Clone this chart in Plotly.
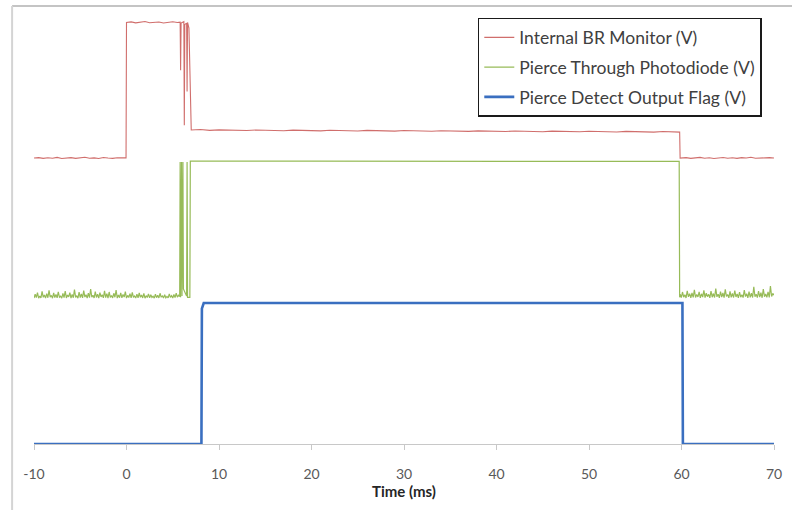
import plotly.graph_objects as go

# ---------------- data (time in ms, signal in arbitrary offset volts) ----------------
# Internal BR Monitor
red_t = [-10, -9.5, -9, -8.5, -8, -7.5, -7, -6.5, -6, -5.5, -5, -4.5, -4, -3.5, -3, -2.5, -2, -1.5, -1, -0.5, -0.05,
         0.0, 0.5, 1.0, 1.5, 2.0, 2.5, 3.0, 3.5, 4.0, 4.5, 5.0, 5.5, 5.8,
         5.85, 5.9, 6.2, 6.25, 6.3, 6.5, 6.55, 6.6, 6.75, 6.95,
         7, 8, 9, 10, 11, 12, 13, 14, 15, 16, 17, 18, 19, 20, 21, 22, 23, 24, 25, 26, 27, 28, 29, 30,
         31, 32, 33, 34, 35, 36, 37, 38, 39, 40, 41, 42, 43, 44, 45, 46, 47, 48, 49, 50, 51, 52, 53,
         54, 55, 56, 57, 58, 59, 59.8,
         59.85, 60.5, 61, 61.5, 62, 62.5, 63, 63.5, 64, 64.5, 65, 65.5, 66, 66.5, 67, 67.5, 68, 68.5, 69, 69.5, 70]
red_v = [2.028, 2.031, 2.026, 2.030, 2.027, 2.033, 2.025, 2.029, 2.031, 2.026, 2.028, 2.034, 2.027, 2.029, 2.025, 2.032, 2.028, 2.026, 2.030, 2.027, 2.029,
         2.990, 2.994, 2.987, 2.992, 2.996, 2.988, 2.991, 2.993, 2.986, 2.992, 2.995, 2.989, 2.992,
         2.650, 2.985, 2.995, 2.260, 2.975, 2.985, 2.500, 2.990, 2.950, 2.228,
         2.227, 2.230, 2.224, 2.228, 2.226, 2.229, 2.223, 2.227, 2.225, 2.228, 2.222, 2.226, 2.224, 2.227, 2.221, 2.225, 2.223, 2.226, 2.220, 2.224, 2.222, 2.225, 2.219, 2.223,
         2.221, 2.224, 2.218, 2.222, 2.220, 2.223, 2.217, 2.221, 2.219, 2.222, 2.216, 2.220, 2.218, 2.221, 2.215, 2.219, 2.217, 2.220, 2.214, 2.218, 2.216, 2.219, 2.213,
         2.217, 2.215, 2.218, 2.212, 2.216, 2.214, 2.212,
         2.028, 2.031, 2.026, 2.029, 2.033, 2.027, 2.030, 2.025, 2.029, 2.032, 2.027, 2.030, 2.026, 2.031, 2.028, 2.034, 2.027, 2.029, 2.026, 2.031, 2.028]

# Pierce Through Photodiode: noisy baseline before the pierce (-10 .. 5.75 ms)
green_pre_v = [1.035, 1.062, 1.038, 1.074, 1.034, 1.050, 1.036, 1.083, 1.040, 1.057, 1.035, 1.066, 1.037, 1.090, 1.042, 1.054,
               1.034, 1.071, 1.039, 1.060, 1.036, 1.079, 1.041, 1.048, 1.035, 1.068, 1.038, 1.085, 1.036, 1.056, 1.043, 1.073,
               1.035, 1.061, 1.037, 1.095, 1.040, 1.052, 1.034, 1.077, 1.039, 1.064, 1.036, 1.088, 1.042, 1.058, 1.035, 1.070,
               1.038, 1.099, 1.041, 1.055, 1.036, 1.081, 1.039, 1.063, 1.035, 1.074, 1.043, 1.059, 1.036, 1.086, 1.038, 1.067,
               1.034, 1.078, 1.040, 1.053, 1.036, 1.069, 1.041, 1.092, 1.035, 1.057, 1.038, 1.072, 1.036, 1.061, 1.042, 1.080,
               1.035, 1.054, 1.039, 1.066, 1.036, 1.075, 1.040, 1.050, 1.035, 1.063, 1.037, 1.071, 1.041, 1.056, 1.036, 1.068,
               1.034, 1.052, 1.039, 1.065, 1.036, 1.059, 1.040, 1.048, 1.035, 1.062, 1.038, 1.055, 1.036, 1.069, 1.041, 1.050,
               1.035, 1.058, 1.037, 1.047, 1.036, 1.064, 1.040, 1.052, 1.035, 1.060, 1.038, 1.070, 1.042, 1.055, 1.046]
# pierce transition spikes and the high level
green_mid_t = [5.8, 5.85, 5.95, 6.0, 6.1, 6.15, 6.5, 6.55, 6.6, 6.85, 6.9, 20, 40, 59.75, 59.8]
green_mid_v = [2.000, 1.040, 2.000, 1.050, 2.000, 1.100, 1.050, 2.000, 1.040, 1.040, 2.007, 2.006, 2.005, 2.004, 1.040]
# noisy baseline after the pierce signal ends (59.85 .. 70 ms)
green_post_v = [1.062, 1.038, 1.078, 1.041, 1.058, 1.036, 1.086, 1.044, 1.066, 1.037, 1.071, 1.040, 1.094, 1.039, 1.060, 1.043,
                1.079, 1.037, 1.065, 1.042, 1.090, 1.038, 1.070, 1.045, 1.061, 1.036, 1.084, 1.041, 1.067, 1.039, 1.102, 1.044,
                1.063, 1.037, 1.080, 1.042, 1.071, 1.038, 1.096, 1.046, 1.060, 1.036, 1.083, 1.040, 1.068, 1.039, 1.088, 1.043,
                1.064, 1.037, 1.077, 1.041, 1.059, 1.038, 1.092, 1.045, 1.066, 1.036, 1.081, 1.040, 1.070, 1.039, 1.115, 1.044,
                1.062, 1.038, 1.085, 1.042, 1.073, 1.037, 1.098, 1.045, 1.064, 1.040, 1.079, 1.039, 1.120, 1.046, 1.068, 1.055]

# Pierce Detect Output Flag
blue_t = [-10, 8.1, 8.15, 8.35, 60.1, 60.15, 70]
blue_v = [0.0, 0.0, 0.96, 1.0, 1.0, 0.0, 0.0]

x_ticks = [-10, 0, 10, 20, 30, 40, 50, 60, 70]
names = ["Internal BR Monitor (V)", "Pierce Through Photodiode (V)", "Pierce Detect Output Flag (V)"]

# sample instants of the uniformly sampled noisy segments
n_pre, n_post = len(green_pre_v), len(green_post_v)
green_pre_t = [-10 + 15.75 * i / (n_pre - 1) for i in range(n_pre)]
green_post_t = [59.85 + 10.15 * i / (n_post - 1) for i in range(n_post)]
green_t = green_pre_t + green_mid_t + green_post_t
green_v = green_pre_v + green_mid_v + green_post_v

fig = go.Figure()
fig.add_trace(go.Scatter(x=red_t, y=red_v, mode="lines", name=names[0], legendgroup="a",
                         line=dict(color="rgba(200,85,82,0.85)", width=1.1)))
fig.add_trace(go.Scatter(x=green_t, y=green_v, mode="lines", name=names[1], legendgroup="b",
                         line=dict(color="rgba(140,180,70,0.9)", width=1.2)))
fig.add_trace(go.Scatter(x=blue_t, y=blue_v, mode="lines", name=names[2], legendgroup="c",
                         line=dict(color="#3a6fc0", width=2.6)))

fig.update_layout(
    width=792, height=510,
    margin=dict(l=34, r=16, t=10, b=66),
    plot_bgcolor="white", paper_bgcolor="white",
    font=dict(family="Lato, Open Sans, sans-serif", color="#404040"),
    showlegend=True,
    legend=dict(x=0.5997, y=0.9816, xanchor="left", yanchor="top",
                bordercolor="#1a1a1a", borderwidth=1.5, bgcolor="white",
                font=dict(size=17.5, color="#404040", family="Lato, sans-serif"),
                tracegroupgap=4, itemwidth=30, entrywidth=250),
    xaxis=dict(range=[-10, 70], tickvals=x_ticks, ticktext=[str(v) for v in x_ticks],
               showgrid=False, zeroline=False, showline=True, linecolor="#c8c8c8", linewidth=1,
               ticks="outside", ticklen=5, tickcolor="#c8c8c8", ticklabelstandoff=12,
               tickfont=dict(size=14, color="#595959"),
               title=dict(text="<b>Time (ms)</b>", font=dict(size=15, color="#262626"), standoff=5)),
    yaxis=dict(range=[0, 3.078], visible=False, fixedrange=True),
    shapes=[
        dict(type="line", xref="paper", yref="paper", x0=-0.0296, x1=1.1, y0=1.0092, y1=1.0092,
             line=dict(color="#c4c4c4", width=2)),
        dict(type="line", xref="paper", yref="paper", x0=-0.0296, x1=-0.0296, y0=1.0092, y1=-0.2,
             line=dict(color="#d4d4d4", width=2)),
    ],
)

fig.write_html("out.html")
